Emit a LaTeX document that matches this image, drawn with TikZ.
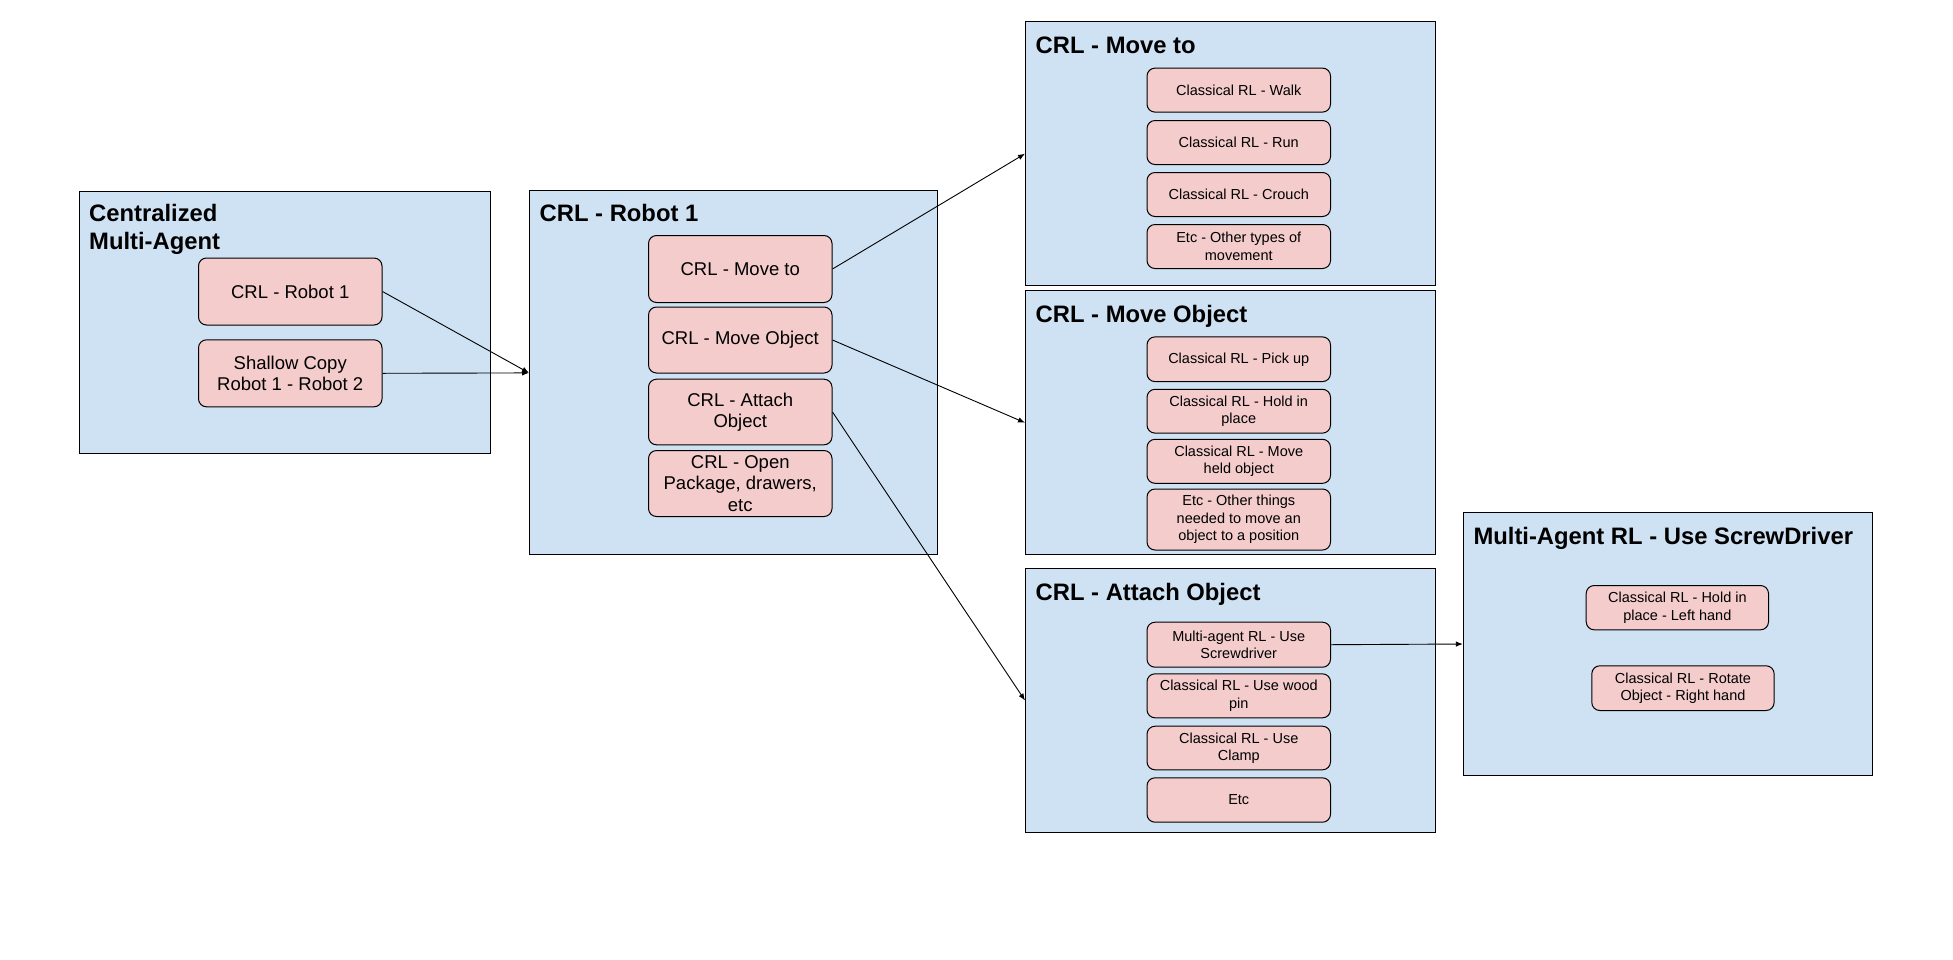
\documentclass[tikz,border=0pt]{standalone}
\usepackage{fontspec}
\setmainfont{Liberation Sans}
\usetikzlibrary{calc,arrows.meta}
\definecolor{boxblue}{HTML}{CFE2F3}
\definecolor{boxpink}{HTML}{F4CCCC}
\tikzset{
  outerbox/.style={draw=black, fill=boxblue, line width=1pt, inner sep=0pt, anchor=north west},
  pinkbox/.style={draw=black, fill=boxpink, line width=1pt, rounded corners=8pt, align=center, inner sep=0pt, anchor=north west},
  bigtxt/.style={font=\fontsize{18.5}{21.5}\selectfont},
  smalltxt/.style={font=\fontsize{14.5}{17.5}\selectfont},
  titletxt/.style={font=\bfseries\fontsize{23.8}{28.3}\selectfont, anchor=base west, inner sep=0pt},
  arr/.style={-{Latex[length=7pt,width=5.5pt]}, line width=0.9pt}
}
\begin{document}
\begin{tikzpicture}[x=1pt,y=-1pt]
\useasboundingbox[fill=white] (0,0) rectangle (1953,959);

% outer boxes
\node[outerbox, minimum width=411pt, minimum height=262.8pt] (cent) at (78.5,190.6) {};
\node[outerbox, minimum width=408pt, minimum height=364pt] (rob) at (529,190.4) {};
\node[outerbox, minimum width=410pt, minimum height=264pt] (bmt) at (1025,21.2) {};
\node[outerbox, minimum width=410pt, minimum height=264pt] (bmo) at (1025,290.2) {};
\node[outerbox, minimum width=410pt, minimum height=263.4pt] (bao) at (1025,568.3) {};
\node[outerbox, minimum width=409.6pt, minimum height=263pt] (bma) at (1462.8,512) {};

% titles
\node[titletxt] (centT1) at ($(cent.north west)+(10.5,31)$) {Centralized};
\node[titletxt] (centT2) at ($(cent.north west)+(10.5,59.3)$) {Multi-Agent};
\node[titletxt] (robT) at ($(rob.north west)+(10.5,31)$) {CRL - Robot 1};
\node[titletxt] (bmtT) at ($(bmt.north west)+(10.5,32.5)$) {CRL - Move to};
\node[titletxt] (bmoT) at ($(bmo.north west)+(10.5,32.5)$) {CRL - Move Object};
\node[titletxt] (baoT) at ($(bao.north west)+(10.5,32.5)$) {CRL - Attach Object};
\node[titletxt] (bmaT) at ($(bma.north west)+(10.5,32.5)$) {Multi-Agent RL - Use ScrewDriver};

% centralized inner
\node[pinkbox, bigtxt, minimum width=183.5pt, minimum height=67pt] (r1) at (198,257.5) {CRL - Robot 1};
\node[pinkbox, bigtxt, minimum width=183.5pt, minimum height=67pt] (sc) at (198,339.3) {Shallow Copy\\Robot 1 - Robot 2};

% robot 1 inner
\node[pinkbox, bigtxt, minimum width=183.5pt, minimum height=67pt] (mt) at (648,235) {CRL - Move to};
\node[pinkbox, bigtxt, minimum width=183.5pt, minimum height=66pt] (mo) at (648,306.5) {CRL - Move Object};
\node[pinkbox, bigtxt, minimum width=183.5pt, minimum height=65.6pt] (ao) at (648,378.7) {CRL - Attach\\Object};
\node[pinkbox, bigtxt, minimum width=183.5pt, minimum height=66pt] (op) at (648,450) {CRL - Open\\Package, drawers,\\etc};

% move to inner
\node[pinkbox, smalltxt, minimum width=183.5pt, minimum height=44pt] (walk) at (1146.5,67.6) {Classical RL - Walk};
\node[pinkbox, smalltxt, minimum width=183.5pt, minimum height=44pt] (run) at (1146.5,120) {Classical RL - Run};
\node[pinkbox, smalltxt, minimum width=183.5pt, minimum height=44pt] (crouch) at (1146.5,172) {Classical RL - Crouch};
\node[pinkbox, smalltxt, minimum width=183.5pt, minimum height=44pt] (etc1) at (1146.5,224) {Etc - Other types of\\movement};

% move object inner
\node[pinkbox, smalltxt, minimum width=183.5pt, minimum height=44.7pt] (pick) at (1146.5,336.4) {Classical RL - Pick up};
\node[pinkbox, smalltxt, minimum width=183.5pt, minimum height=43.8pt] (hold) at (1146.5,388.8) {Classical RL - Hold in\\place};
\node[pinkbox, smalltxt, minimum width=183.5pt, minimum height=44pt] (mheld) at (1146.5,438.8) {Classical RL - Move\\held object};
\node[pinkbox, smalltxt, minimum width=183.5pt, minimum height=61pt] (etc2) at (1146.5,488.5) {Etc - Other things\\needed to move an\\object to a position};

% attach inner
\node[pinkbox, smalltxt, minimum width=183.5pt, minimum height=45pt] (sd) at (1146.5,621.7) {Multi-agent RL - Use\\Screwdriver};
\node[pinkbox, smalltxt, minimum width=183.5pt, minimum height=44pt] (wood) at (1146.5,673.3) {Classical RL - Use wood\\pin};
\node[pinkbox, smalltxt, minimum width=183.5pt, minimum height=43.6pt] (clamp) at (1146.5,725.7) {Classical RL - Use\\Clamp};
\node[pinkbox, smalltxt, minimum width=183.5pt, minimum height=44.4pt] (etc3) at (1146.5,777.3) {Etc};

% multi-agent inner
\node[pinkbox, smalltxt, minimum width=182.3pt, minimum height=44.3pt] (left) at (1585.7,585) {Classical RL - Hold in\\place - Left hand};
\node[pinkbox, smalltxt, minimum width=182.3pt, minimum height=44.7pt] (right) at (1591.3,665.3) {Classical RL - Rotate\\Object - Right hand};

% connectors
\draw[arr] (r1.east) -- (rob.west);
\draw[arr] (sc.east) -- (rob.west);
\draw[arr] (mt.east) -- (bmt.west);
\draw[arr] (mo.east) -- (bmo.west);
\draw[arr] (ao.east) -- (bao.west);
\draw[arr] (sd.east) -- (bma.west);
\end{tikzpicture}
\end{document}
